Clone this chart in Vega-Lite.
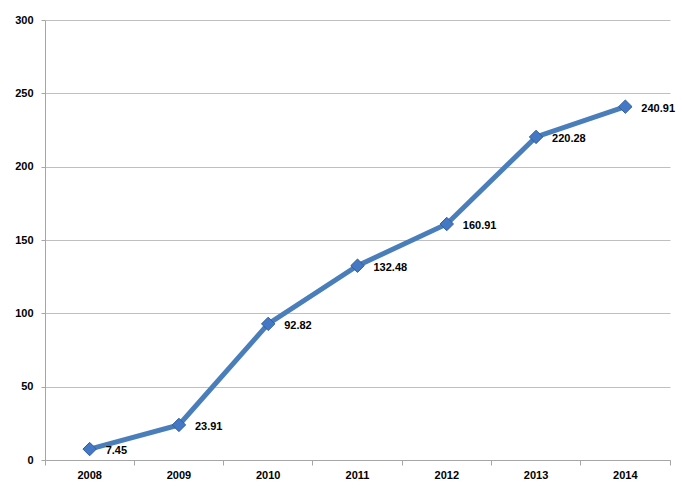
{
  "$schema": "https://vega.github.io/schema/vega-lite/v6.json",
  "width": 625,
  "height": 440,
  "autosize": "none",
  "padding": {"left": 45, "top": 20, "right": 12, "bottom": 36},
  "background": "white",
  "config": {
    "view": {"stroke": null},
    "font": "Liberation Sans",
    "axis": {"labelFont": "Liberation Sans", "labelFontWeight": "bold", "labelFontSize": 11, "labelColor": "black", "domainColor": "#a6a6a6", "tickColor": "#a6a6a6", "gridColor": "#bfbfbf", "title": null}
  },
  "data": {"values": [
    {"year": "2008", "value": 7.45},
    {"year": "2009", "value": 23.91},
    {"year": "2010", "value": 92.82},
    {"year": "2011", "value": 132.48},
    {"year": "2012", "value": 160.91},
    {"year": "2013", "value": 220.28},
    {"year": "2014", "value": 240.91}
  ]},
  "encoding": {
    "x": {"field": "year", "type": "ordinal", "scale": {"type": "band", "paddingInner": 0, "paddingOuter": 0}, "bandPosition": 0.5, "axis": null},
    "y": {"field": "value", "type": "quantitative", "scale": {"domain": [0, 300]}, "axis": {"values": [0, 50, 100, 150, 200, 250, 300], "grid": true, "tickSize": 4, "labelPadding": 8}}
  },
  "layer": [
    {
      "mark": {"type": "line", "color": "#4a7ebb", "strokeWidth": 5},
      "encoding": {
        "x": {"field": "year", "type": "ordinal", "bandPosition": 0.5, "axis": {"orient": "bottom", "labelAngle": 0, "ticks": false, "labelPadding": 9, "domain": true, "grid": false}}
      }
    },
    {
      "mark": {"type": "point", "shape": "diamond", "filled": true, "size": 180, "color": "#4477c4", "stroke": "#2f5f9f", "strokeWidth": 1, "opacity": 1},
      "encoding": {
        "x": {"field": "year", "type": "ordinal", "bandPosition": 0.5, "axis": {"orient": "bottom", "bandPosition": 0, "labels": false, "ticks": true, "tickSize": 5, "domain": false, "grid": false}}
      }
    },
    {
      "mark": {"type": "text", "align": "left", "baseline": "middle", "dx": 16, "dy": 2, "fontWeight": "bold", "fontSize": 11, "font": "Liberation Sans", "color": "black"},
      "encoding": {
        "x": {"field": "year", "type": "ordinal", "bandPosition": 0.5, "axis": {"orient": "bottom", "bandPosition": 1, "values": ["2014"], "labels": false, "ticks": true, "tickSize": 5, "domain": false, "grid": false}},
        "text": {"field": "value", "type": "quantitative", "format": ".2f"}
      }
    }
  ],
  "resolve": {"axis": {"x": "independent"}}
}
